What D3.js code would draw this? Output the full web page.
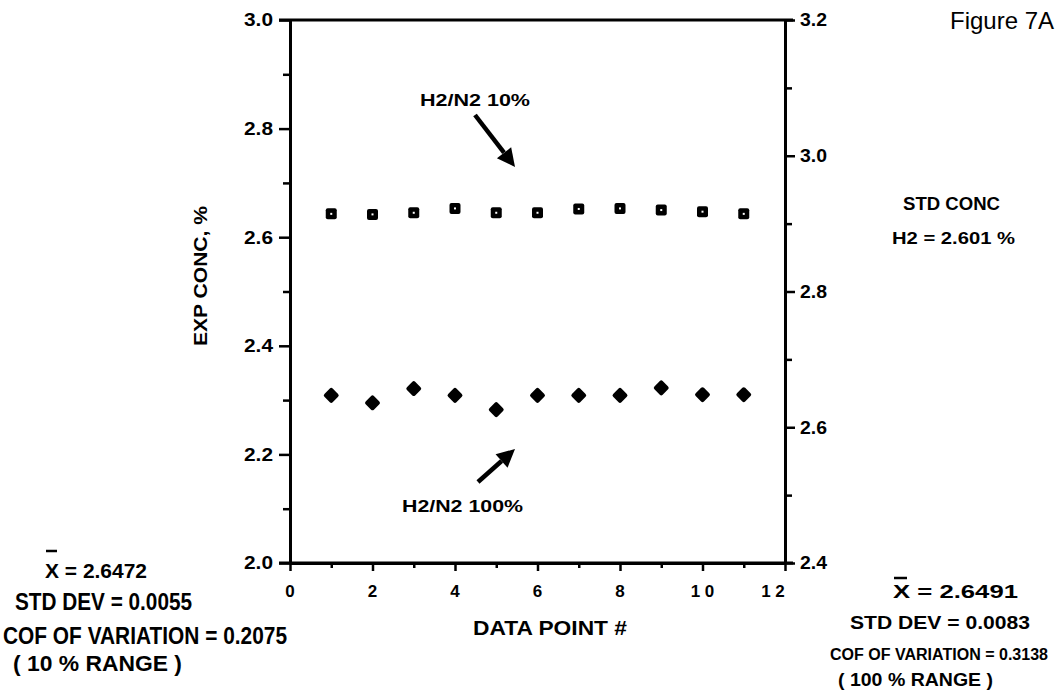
<!DOCTYPE html>
<html>
<head>
<script src="https://d3js.org/d3.v7.min.js"></script>
<style>
  body { margin: 0; background: #fff; }
  svg text { font-family: "Liberation Sans", Arial, sans-serif; font-weight: bold; fill: #000; }
</style>
</head>
<body>
<script>
// data points 1..11
var points = [1, 2, 3, 4, 5, 6, 7, 8, 9, 10, 11];
// H2/N2 10% range (left axis)
var conc10 = [2.643, 2.642, 2.645, 2.653, 2.645, 2.645, 2.652, 2.653, 2.650, 2.647, 2.643];
// H2/N2 100% range (right axis)
var conc100 = [2.647, 2.636, 2.657, 2.647, 2.626, 2.647, 2.647, 2.647, 2.658, 2.648, 2.648];

var xTicks = [0, 2, 4, 6, 8, 10, 12];
var leftTicks = [2.0, 2.2, 2.4, 2.6, 2.8, 3.0];
var rightTicks = [2.4, 2.6, 2.8, 3.0, 3.2];

var width = 1062, height = 695;
var svg = d3.select("body").append("svg")
    .attr("width", width)
    .attr("height", height);

var x = d3.scaleLinear().domain([0, 12]).range([290, 785]);
var yL = d3.scaleLinear().domain([2.0, 3.0]).range([563, 20]);
var yR = d3.scaleLinear().domain([2.4, 3.2]).range([563, 20]);

// text helper: y is the middle of the capitals, len squeezes to the measured width
function txt(s, tx, ty, size, len, anchor, weight) {
    var t = svg.append("text")
        .attr("x", tx).attr("y", ty)
        .attr("dy", "0.36em")
        .attr("text-anchor", anchor || "start")
        .style("font-size", size + "px")
        .style("font-weight", weight || "bold")
        .text(s);
    if (len) t.attr("textLength", len).attr("lengthAdjust", "spacingAndGlyphs");
    return t;
}

function styleAxis(g) {
    g.select(".domain").attr("stroke-width", 3);
    g.selectAll(".tick line").attr("stroke-width", 2.5);
}

// minor ticks
svg.append("g")
    .attr("transform", "translate(290,0)")
    .call(d3.axisLeft(yL).tickValues(d3.range(2.1, 3.0, 0.2)).tickSize(7).tickFormat(""))
    .call(styleAxis)
    .select(".domain").remove();
svg.append("g")
    .attr("transform", "translate(785,0)")
    .call(d3.axisRight(yR).tickValues(d3.range(2.5, 3.2, 0.2)).tickSize(7).tickFormat(""))
    .call(styleAxis)
    .select(".domain").remove();
svg.append("g")
    .attr("transform", "translate(0,563)")
    .call(d3.axisBottom(x).tickValues([1, 3, 5, 7, 9, 11]).tickSize(5).tickFormat(""))
    .call(styleAxis)
    .select(".domain").remove();

// major axes (labels drawn separately)
svg.append("g")
    .attr("transform", "translate(290,0)")
    .call(d3.axisLeft(yL).tickValues(leftTicks).tickSize(11).tickSizeOuter(0).tickFormat(""))
    .call(styleAxis);
svg.append("g")
    .attr("transform", "translate(785,0)")
    .call(d3.axisRight(yR).tickValues(rightTicks).tickSize(10).tickSizeOuter(0).tickFormat(""))
    .call(styleAxis);
svg.append("g")
    .attr("transform", "translate(0,563)")
    .call(d3.axisBottom(x).tickValues(xTicks).tickSize(8).tickSizeOuter(0).tickFormat(""))
    .call(styleAxis);

// frame top and bottom lines
[20, 563].forEach(function (yy) {
    svg.append("line")
        .attr("x1", 279).attr("x2", 793)
        .attr("y1", yy).attr("y2", yy)
        .attr("stroke", "#000").attr("stroke-width", 3);
});

// tick labels
leftTicks.forEach(function (v) { txt(d3.format(".1f")(v), 273, yL(v), 18, 29, "end"); });
rightTicks.forEach(function (v) { txt(d3.format(".1f")(v), 800, yR(v), 18, 27, "start"); });
xTicks.forEach(function (v) { txt(v >= 10 ? v.toString().split("").join(" ") : String(v), x(v) - (v == 12 ? 12 : 0), 591, 17, null, "middle"); });

// squares (10% range)
var sq = svg.append("g").selectAll("g")
    .data(points)
    .enter().append("g")
    .attr("transform", function (d, i) { return "translate(" + x(d) + "," + yL(conc10[i]) + ")"; });
sq.append("rect")
    .attr("x", -5.5).attr("y", -5.5)
    .attr("width", 11).attr("height", 11)
    .attr("rx", 2).attr("fill", "#000");
sq.append("rect")
    .attr("x", -1).attr("y", -1)
    .attr("width", 2).attr("height", 2)
    .attr("fill", "#fff");

// diamonds (100% range)
svg.append("g").selectAll("path")
    .data(points)
    .enter().append("path")
    .attr("d", d3.symbol().type(d3.symbolDiamond2).size(75))
    .attr("transform", function (d, i) { return "translate(" + x(d) + "," + yR(conc100[i]) + ")"; })
    .attr("fill", "#000")
    .attr("stroke", "#000")
    .attr("stroke-width", 4)
    .attr("stroke-linejoin", "round");

// arrows
function arrow(x1, y1, x2, y2) {
    var a = Math.atan2(y2 - y1, x2 - x1);
    var hl = 18, hw = 9;
    var bx = x2 - hl * Math.cos(a), by = y2 - hl * Math.sin(a);
    svg.append("line")
        .attr("x1", x1).attr("y1", y1).attr("x2", bx).attr("y2", by)
        .attr("stroke", "#000").attr("stroke-width", 4.5);
    svg.append("path")
        .attr("d", "M" + x2 + "," + y2 +
            "L" + (bx + hw * Math.sin(a)) + "," + (by - hw * Math.cos(a)) +
            "L" + (bx - hw * Math.sin(a)) + "," + (by + hw * Math.cos(a)) + "Z")
        .attr("fill", "#000");
}
arrow(475, 115, 515, 167);
arrow(478, 482, 515, 449);

txt("H2/N2 10%", 420, 100, 16, 110);
txt("H2/N2 100%", 402, 506, 17, 121);

// axis titles
svg.append("text")
    .attr("transform", "translate(200,276) rotate(-90)")
    .attr("text-anchor", "middle")
    .attr("dy", "0.36em")
    .attr("textLength", 140).attr("lengthAdjust", "spacingAndGlyphs")
    .style("font-size", "19px")
    .text("EXP CONC, %");
txt("DATA POINT #", 473, 628, 20, 154);

// annotations
txt("Figure 7A", 950, 20, 24, null, "start", "normal");
txt("STD CONC", 903, 204, 18, 97);
txt("H2 = 2.601 %", 892, 238, 17, 123);

function overbar(x1, x2, yy) {
    svg.append("line")
        .attr("x1", x1).attr("x2", x2)
        .attr("y1", yy).attr("y2", yy)
        .attr("stroke", "#000").attr("stroke-width", 2.5);
}
overbar(46, 57, 551);
txt("X = 2.6472", 45, 570, 21, 102);
txt("STD DEV = 0.0055", 15, 602, 23, 177);
txt("COF OF VARIATION = 0.2075", 3, 636, 23, 284);
txt("( 10 % RANGE )", 13, 663, 22, 169);

overbar(894, 907, 578);
txt("X = 2.6491", 893, 591, 19, 125);
txt("STD DEV = 0.0083", 850, 622, 19, 180);
txt("COF OF VARIATION = 0.3138", 830, 654, 16, 218);
txt("( 100 % RANGE )", 838, 679, 19, 155);
</script>
</body>
</html>
